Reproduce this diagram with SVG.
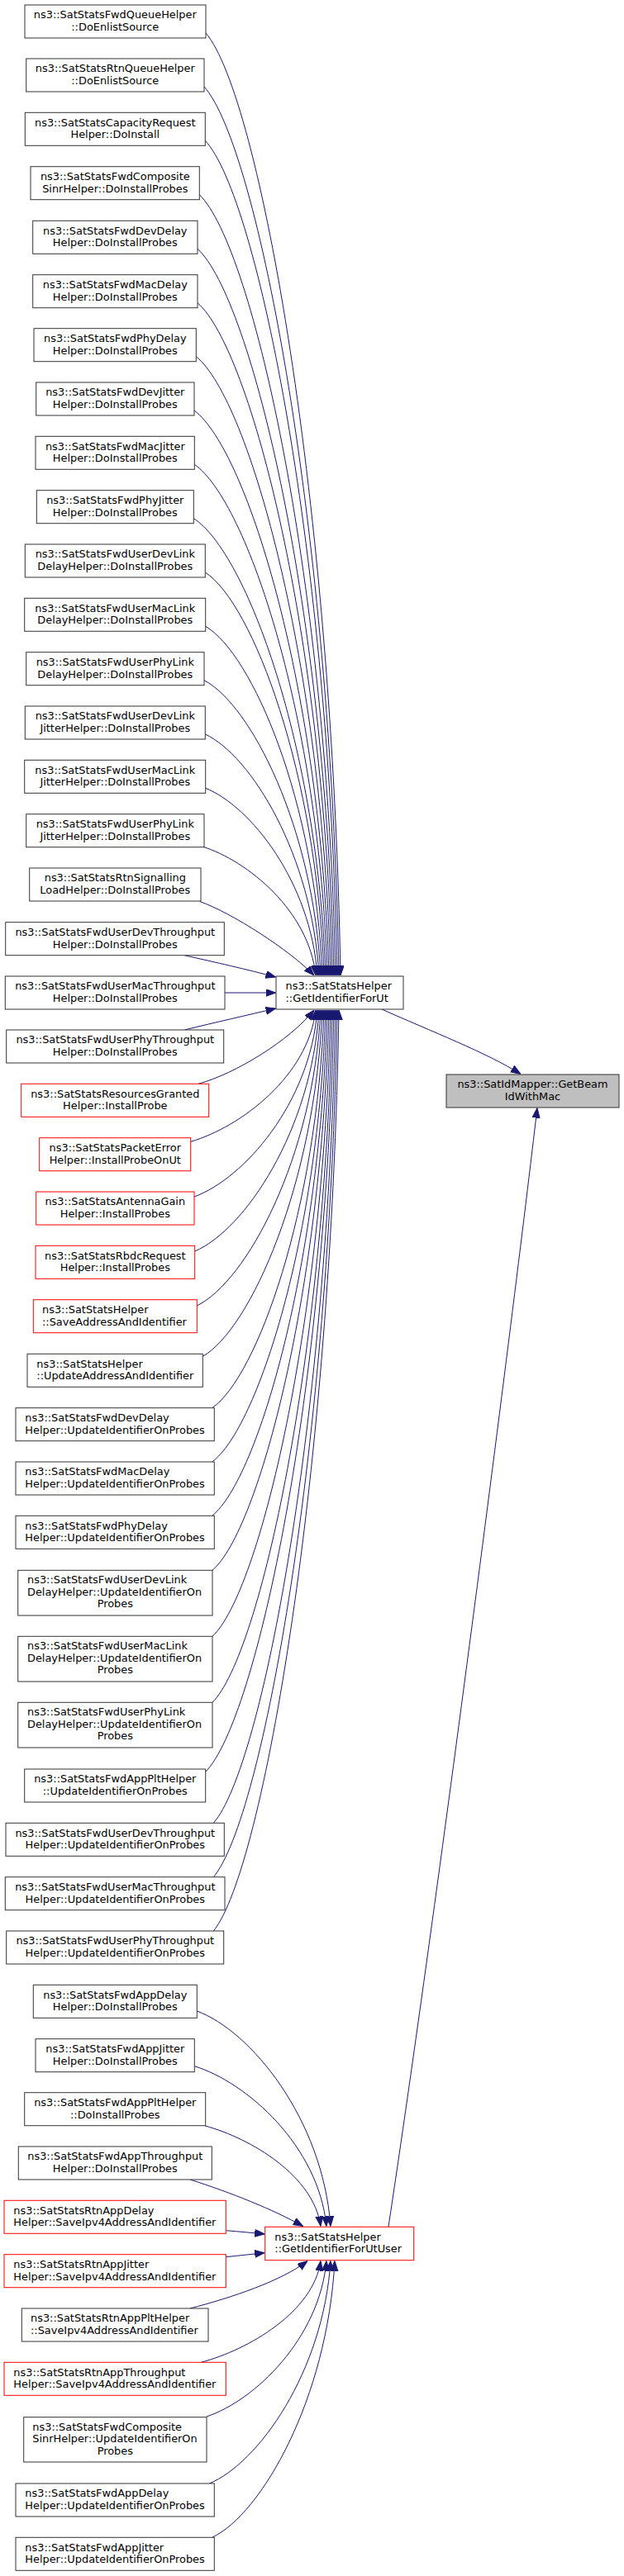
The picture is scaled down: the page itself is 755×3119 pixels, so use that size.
<svg xmlns="http://www.w3.org/2000/svg" width="755" height="3119" viewBox="0 0 755 3119">
<style>
rect{fill:#ffffff;stroke:#333333;stroke-width:1}
.red rect{stroke:#ff0000}
.tgt rect{fill:#bfbfbf;stroke:#333333}
text{font-family:"DejaVu Sans",sans-serif;font-size:12.9px;fill:#000000}
.c text{text-anchor:middle}
.e path{fill:none;stroke:#191970;stroke-width:1;marker-end:url(#ah)}
</style>
<defs>
<marker id="ah" markerWidth="12" markerHeight="10" refX="12" refY="4.5" orient="auto" markerUnits="userSpaceOnUse"><path d="M0,0 L12,4.5 L0,9 z" fill="#191970" stroke="#191970" stroke-width="1"/></marker>
</defs>
<rect x="0" y="0" width="755" height="3119" style="fill:#ffffff;stroke:none"/>
<g class="e" id="edges">
<path d="M249,40 C314.2,116.5 402.2,610.5 412,1181"/>
<path d="M247,105 C312.2,177.6 400.2,643 410,1181"/>
<path d="M248.3,170.3 C312.2,238.9 398.4,675.7 408,1181"/>
<path d="M241.3,235.7 C307.2,300.4 396.1,708.4 406,1181"/>
<path d="M239,301.3 C305,362.1 394.1,741.2 404,1181"/>
<path d="M239,366.7 C304.2,423.6 392.2,773.9 402,1181"/>
<path d="M237.3,431.7 C302.4,484.7 390.2,806.4 400,1181"/>
<path d="M235,497 C300.2,546 388.2,839 398,1181"/>
<path d="M235.3,562.3 C299.6,607.4 386.4,871.7 396,1181"/>
<path d="M234.3,627.7 C298.2,668.9 384.4,904.4 394,1181"/>
<path d="M248.3,693 C305.8,730.3 383.4,937 392,1181"/>
<path d="M248.7,758.3 C305.2,791.7 381.5,969.7 390,1181"/>
<path d="M247,823.7 C303.4,853.1 379.5,1002.4 388,1181"/>
<path d="M248.3,889 C303.4,914.5 377.7,1035 386,1181"/>
<path d="M248.7,954.3 C302.8,975.9 375.9,1067.7 384,1181"/>
<path d="M245,1025 C299.8,1042.4 373.8,1103 382,1181"/>
<path d="M241.7,1091.5 C280,1105 350,1150 380,1181"/>
<path d="M223.3,1156.7 C260,1165 300,1174 333.5,1183"/>
<path d="M272,1202 L333.5,1202"/>
<path d="M223.3,1247 C260,1238 300,1229 333.5,1221"/>
<path d="M240,1312.3 C285,1300 350,1260 380,1223"/>
<path d="M230.7,1382.3 C291.2,1364.7 372.9,1302.6 382,1223"/>
<path d="M235,1449 C294.6,1427.4 375.1,1336 384,1223"/>
<path d="M235.7,1515 C295.8,1489.5 377,1369 386,1223"/>
<path d="M238.3,1581 C298.2,1551.5 379,1402 388,1223"/>
<path d="M245.3,1642.3 C303.2,1609.1 381.3,1432.6 390,1223"/>
<path d="M256.7,1704.7 C310.8,1667.8 383.9,1463.8 392,1223"/>
<path d="M256.7,1770 C311.6,1729.2 385.8,1496.5 394,1223"/>
<path d="M256.7,1835.3 C312.4,1790.6 387.6,1529.1 396,1223"/>
<path d="M257,1901.3 C313.4,1852.6 389.5,1562.1 398,1223"/>
<path d="M257,1981.3 C314.2,1927.8 391.4,1602.1 400,1223"/>
<path d="M257,2061.3 C315,2003 393.3,1642.1 402,1223"/>
<path d="M248.7,2145.3 C310.8,2082 394.7,1684.1 404,1223"/>
<path d="M258.3,2207.3 C317.4,2140.2 397.1,1715.1 406,1223"/>
<path d="M258.3,2272.7 C318.2,2201.7 399,1747.8 408,1223"/>
<path d="M258.3,2338 C319,2263.1 400.9,1780.5 410,1223"/>
<path d="M238.3,2435 C303,2458.6 390.3,2565.3 400,2695.5"/>
<path d="M235.3,2501.7 C298.9,2521.3 385.4,2598.6 395,2695.5"/>
<path d="M248.3,2574 C304.2,2589.3 379.6,2634.8 388,2695.5"/>
<path d="M230,2639 C280,2655 330,2675 366.7,2695.5"/>
<path d="M273.3,2700.7 C290,2702 305,2703.5 320.2,2705"/>
<path d="M273.3,2732.7 C290,2731 305,2729.3 320.2,2727.7"/>
<path d="M230,2795 C280,2782 340,2762 372,2737.5"/>
<path d="M243.3,2860.3 C301.2,2844.9 379.3,2798.9 388,2737.5"/>
<path d="M250,2926 C308,2906.7 386.3,2831.7 395,2737.5"/>
<path d="M253.3,3007 C312,2982.8 391.2,2872.2 400,2737.5"/>
<path d="M256.7,3072.3 C316,3044.2 396.1,2904.9 405,2737.5"/>
<path d="M462,1222 C520,1248 590,1275 630,1300.5"/>
<path d="M470,2696 C530,2300 620,1600 650,1341.5"/>
</g>
<g id="n1" class="c"><rect x="30" y="6" width="219" height="40"/><text x="139.3" y="22.3">ns3::SatStatsFwdQueueHelper</text><text x="139.3" y="36.8">::DoEnlistSource</text></g>
<g id="n2" class="c"><rect x="31.7" y="71" width="215.3" height="40"/><text x="139.3" y="87.3">ns3::SatStatsRtnQueueHelper</text><text x="139.3" y="101.8">::DoEnlistSource</text></g>
<g id="n3" class="c"><rect x="30.3" y="136.3" width="218" height="40"/><text x="139.3" y="152.6">ns3::SatStatsCapacityRequest</text><text x="139.3" y="167.1">Helper::DoInstall</text></g>
<g id="n4" class="c"><rect x="37" y="201.7" width="204.3" height="40"/><text x="139.3" y="218">ns3::SatStatsFwdComposite</text><text x="139.3" y="232.5">SinrHelper::DoInstallProbes</text></g>
<g id="n5" class="c"><rect x="39.7" y="267.3" width="199.3" height="40"/><text x="139.3" y="283.6">ns3::SatStatsFwdDevDelay</text><text x="139.3" y="298.1">Helper::DoInstallProbes</text></g>
<g id="n6" class="c"><rect x="39.7" y="332.7" width="199.3" height="40"/><text x="139.3" y="349">ns3::SatStatsFwdMacDelay</text><text x="139.3" y="363.5">Helper::DoInstallProbes</text></g>
<g id="n7" class="c"><rect x="41" y="397.7" width="196.3" height="40"/><text x="139.3" y="414">ns3::SatStatsFwdPhyDelay</text><text x="139.3" y="428.5">Helper::DoInstallProbes</text></g>
<g id="n8" class="c"><rect x="43.7" y="463" width="191.3" height="40"/><text x="139.3" y="479.3">ns3::SatStatsFwdDevJitter</text><text x="139.3" y="493.8">Helper::DoInstallProbes</text></g>
<g id="n9" class="c"><rect x="43" y="528.3" width="192.3" height="40"/><text x="139.3" y="544.6">ns3::SatStatsFwdMacJitter</text><text x="139.3" y="559.1">Helper::DoInstallProbes</text></g>
<g id="n10" class="c"><rect x="44.3" y="593.7" width="190" height="40"/><text x="139.3" y="610">ns3::SatStatsFwdPhyJitter</text><text x="139.3" y="624.5">Helper::DoInstallProbes</text></g>
<g id="n11" class="c"><rect x="30.3" y="659" width="218" height="40"/><text x="139.3" y="675.3">ns3::SatStatsFwdUserDevLink</text><text x="139.3" y="689.8">DelayHelper::DoInstallProbes</text></g>
<g id="n12" class="c"><rect x="29.7" y="724.3" width="219" height="40"/><text x="139.3" y="740.6">ns3::SatStatsFwdUserMacLink</text><text x="139.3" y="755.1">DelayHelper::DoInstallProbes</text></g>
<g id="n13" class="c"><rect x="31.7" y="789.7" width="215.3" height="40"/><text x="139.3" y="806">ns3::SatStatsFwdUserPhyLink</text><text x="139.3" y="820.5">DelayHelper::DoInstallProbes</text></g>
<g id="n14" class="c"><rect x="30.3" y="855" width="218" height="40"/><text x="139.3" y="871.3">ns3::SatStatsFwdUserDevLink</text><text x="139.3" y="885.8">JitterHelper::DoInstallProbes</text></g>
<g id="n15" class="c"><rect x="29.7" y="920.3" width="219" height="40"/><text x="139.3" y="936.6">ns3::SatStatsFwdUserMacLink</text><text x="139.3" y="951.1">JitterHelper::DoInstallProbes</text></g>
<g id="n16" class="c"><rect x="31.7" y="985.7" width="215.3" height="40"/><text x="139.3" y="1002">ns3::SatStatsFwdUserPhyLink</text><text x="139.3" y="1016.5">JitterHelper::DoInstallProbes</text></g>
<g id="n17" class="c"><rect x="35.7" y="1051" width="207.3" height="40"/><text x="139.3" y="1067.3">ns3::SatStatsRtnSignalling</text><text x="139.3" y="1081.8">LoadHelper::DoInstallProbes</text></g>
<g id="n18" class="c"><rect x="6.7" y="1116.7" width="264.6" height="40"/><text x="139.3" y="1133">ns3::SatStatsFwdUserDevThroughput</text><text x="139.3" y="1147.5">Helper::DoInstallProbes</text></g>
<g id="n19" class="c"><rect x="6.3" y="1182" width="265.7" height="40"/><text x="139.3" y="1198.3">ns3::SatStatsFwdUserMacThroughput</text><text x="139.3" y="1212.8">Helper::DoInstallProbes</text></g>
<g id="n20" class="c"><rect x="7.7" y="1247" width="263" height="40"/><text x="139.3" y="1263.3">ns3::SatStatsFwdUserPhyThroughput</text><text x="139.3" y="1277.8">Helper::DoInstallProbes</text></g>
<g id="n21" class="c red"><rect x="25.7" y="1312.3" width="227" height="40"/><text x="139.3" y="1328.6">ns3::SatStatsResourcesGranted</text><text x="139.3" y="1343.1">Helper::InstallProbe</text></g>
<g id="n22" class="c red"><rect x="47.7" y="1377.7" width="183" height="40"/><text x="139.3" y="1394">ns3::SatStatsPacketError</text><text x="139.3" y="1408.5">Helper::InstallProbeOnUt</text></g>
<g id="n23" class="c red"><rect x="43.7" y="1443" width="191.3" height="40"/><text x="139.3" y="1459.3">ns3::SatStatsAntennaGain</text><text x="139.3" y="1473.8">Helper::InstallProbes</text></g>
<g id="n24" class="c red"><rect x="43" y="1508.3" width="192.7" height="40"/><text x="139.3" y="1524.6">ns3::SatStatsRbdcRequest</text><text x="139.3" y="1539.1">Helper::InstallProbes</text></g>
<g id="n25" class="red"><rect x="40.3" y="1573.7" width="198" height="40"/><text x="51" y="1590">ns3::SatStatsHelper</text><text x="51" y="1604.5">::SaveAddressAndIdentifier</text></g>
<g id="n26"><rect x="33" y="1639.3" width="212.3" height="40"/><text x="44.3" y="1655.6">ns3::SatStatsHelper</text><text x="44.3" y="1670.1">::UpdateAddressAndIdentifier</text></g>
<g id="n27"><rect x="19" y="1704.7" width="240.3" height="40"/><text x="30.3" y="1721">ns3::SatStatsFwdDevDelay</text><text x="30.3" y="1735.5">Helper::UpdateIdentifierOnProbes</text></g>
<g id="n28"><rect x="19" y="1770" width="240.3" height="40"/><text x="30.3" y="1786.3">ns3::SatStatsFwdMacDelay</text><text x="30.3" y="1800.8">Helper::UpdateIdentifierOnProbes</text></g>
<g id="n29"><rect x="19" y="1835.3" width="240.3" height="40"/><text x="30.3" y="1851.6">ns3::SatStatsFwdPhyDelay</text><text x="30.3" y="1866.1">Helper::UpdateIdentifierOnProbes</text></g>
<g id="n30"><rect x="21.7" y="1901.3" width="235.3" height="54.7"/><text x="33" y="1917.3">ns3::SatStatsFwdUserDevLink</text><text x="33" y="1931.8">DelayHelper::UpdateIdentifierOn</text><text x="139.3" y="1946.3" text-anchor="middle">Probes</text></g>
<g id="n31"><rect x="21.7" y="1981.3" width="235.3" height="54.7"/><text x="33" y="1997.3">ns3::SatStatsFwdUserMacLink</text><text x="33" y="2011.8">DelayHelper::UpdateIdentifierOn</text><text x="139.3" y="2026.3" text-anchor="middle">Probes</text></g>
<g id="n32"><rect x="21.7" y="2061.3" width="235.3" height="54.7"/><text x="33" y="2077.3">ns3::SatStatsFwdUserPhyLink</text><text x="33" y="2091.8">DelayHelper::UpdateIdentifierOn</text><text x="139.3" y="2106.3" text-anchor="middle">Probes</text></g>
<g id="n33" class="c"><rect x="29.7" y="2142" width="219" height="40"/><text x="139.3" y="2158.3">ns3::SatStatsFwdAppPltHelper</text><text x="139.3" y="2172.8">::UpdateIdentifierOnProbes</text></g>
<g id="n34" class="c"><rect x="7" y="2207.3" width="264.3" height="40"/><text x="139.3" y="2223.6">ns3::SatStatsFwdUserDevThroughput</text><text x="139.3" y="2238.1">Helper::UpdateIdentifierOnProbes</text></g>
<g id="n35" class="c"><rect x="6.3" y="2272.7" width="265.7" height="40"/><text x="139.3" y="2289">ns3::SatStatsFwdUserMacThroughput</text><text x="139.3" y="2303.5">Helper::UpdateIdentifierOnProbes</text></g>
<g id="n36" class="c"><rect x="7.7" y="2338" width="263" height="40"/><text x="139.3" y="2354.3">ns3::SatStatsFwdUserPhyThroughput</text><text x="139.3" y="2368.8">Helper::UpdateIdentifierOnProbes</text></g>
<g id="n37" class="c"><rect x="40.3" y="2403.3" width="198" height="40"/><text x="139.3" y="2419.6">ns3::SatStatsFwdAppDelay</text><text x="139.3" y="2434.1">Helper::DoInstallProbes</text></g>
<g id="n38" class="c"><rect x="43" y="2468.7" width="192.3" height="40"/><text x="139.3" y="2485">ns3::SatStatsFwdAppJitter</text><text x="139.3" y="2499.5">Helper::DoInstallProbes</text></g>
<g id="n39" class="c"><rect x="29.7" y="2533.7" width="219" height="40"/><text x="139.3" y="2550">ns3::SatStatsFwdAppPltHelper</text><text x="139.3" y="2564.5">::DoInstallProbes</text></g>
<g id="n40" class="c"><rect x="22.3" y="2599" width="234" height="40"/><text x="139.3" y="2615.3">ns3::SatStatsFwdAppThroughput</text><text x="139.3" y="2629.8">Helper::DoInstallProbes</text></g>
<g id="n41" class="red"><rect x="5" y="2664.3" width="268.3" height="40"/><text x="16.3" y="2680.6">ns3::SatStatsRtnAppDelay</text><text x="16.3" y="2695.1">Helper::SaveIpv4AddressAndIdentifier</text></g>
<g id="n42" class="red"><rect x="5" y="2729.7" width="268.3" height="40"/><text x="16.3" y="2746">ns3::SatStatsRtnAppJitter</text><text x="16.3" y="2760.5">Helper::SaveIpv4AddressAndIdentifier</text></g>
<g id="n43"><rect x="26.3" y="2795" width="225.7" height="40"/><text x="37" y="2811.3">ns3::SatStatsRtnAppPltHelper</text><text x="37" y="2825.8">::SaveIpv4AddressAndIdentifier</text></g>
<g id="n44" class="red"><rect x="5" y="2860.3" width="268.3" height="40"/><text x="16.3" y="2876.6">ns3::SatStatsRtnAppThroughput</text><text x="16.3" y="2891.1">Helper::SaveIpv4AddressAndIdentifier</text></g>
<g id="n45"><rect x="28.7" y="2926.7" width="221.3" height="54.3"/><text x="39.3" y="2942.7">ns3::SatStatsFwdComposite</text><text x="39.3" y="2957.2">SinrHelper::UpdateIdentifierOn</text><text x="139.3" y="2971.7" text-anchor="middle">Probes</text></g>
<g id="n46"><rect x="19" y="3007" width="240.3" height="40"/><text x="30.3" y="3023.3">ns3::SatStatsFwdAppDelay</text><text x="30.3" y="3037.8">Helper::UpdateIdentifierOnProbes</text></g>
<g id="n47"><rect x="19" y="3072.3" width="240.3" height="40"/><text x="30.3" y="3088.6">ns3::SatStatsFwdAppJitter</text><text x="30.3" y="3103.1">Helper::UpdateIdentifierOnProbes</text></g>
<g id="getIdentifierForUt"><rect x="334" y="1182" width="154" height="40"/><text x="345.5" y="1198.3">ns3::SatStatsHelper</text><text x="345.5" y="1212.8">::GetIdentifierForUt</text></g>
<g id="getIdentifierForUtUser" class="red"><rect x="320.7" y="2696.3" width="180" height="40.4"/><text x="332.3" y="2712.6">ns3::SatStatsHelper</text><text x="332.3" y="2727.1">::GetIdentifierForUtUser</text></g>
<g id="getBeamIdWithMac" class="c tgt"><rect x="540" y="1301" width="209" height="40"/><text x="644.5" y="1317.3">ns3::SatIdMapper::GetBeam</text><text x="644.5" y="1331.8">IdWithMac</text></g>
</svg>
